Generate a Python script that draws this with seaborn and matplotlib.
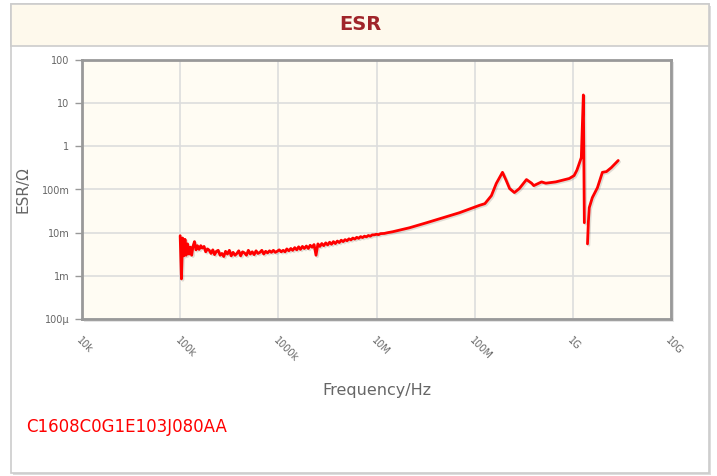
import numpy as np
import pandas as pd
import matplotlib
matplotlib.use("Agg")
import matplotlib.pyplot as plt
import matplotlib.patheffects as pe
from matplotlib.patches import Rectangle
import seaborn as sns

# ESR curve
# noisy low-frequency part: frequency in Hz, ESR in milliohm
freq_noise = [1.00e5, 1.03e5, 1.06e5, 1.09e5, 1.12e5, 1.15e5, 1.19e5, 1.23e5, 1.27e5, 1.31e5,
              1.35e5, 1.40e5, 1.45e5, 1.50e5, 1.56e5, 1.62e5, 1.68e5, 1.75e5, 1.82e5, 1.90e5,
              1.98e5, 2.06e5, 2.15e5, 2.24e5, 2.34e5, 2.44e5, 2.55e5, 2.66e5, 2.78e5, 2.90e5,
              3.03e5, 3.17e5, 3.31e5, 3.46e5, 3.62e5, 3.78e5, 3.95e5, 4.13e5, 4.32e5, 4.52e5,
              4.73e5, 4.95e5, 5.18e5, 5.42e5, 5.67e5, 5.93e5, 6.20e5, 6.49e5, 6.79e5, 7.10e5,
              7.43e5, 7.77e5, 8.13e5, 8.50e5, 8.90e5, 9.31e5, 9.74e5, 1.02e6, 1.07e6, 1.12e6,
              1.17e6, 1.22e6, 1.28e6, 1.34e6, 1.40e6, 1.47e6, 1.54e6, 1.61e6, 1.68e6, 1.76e6,
              1.84e6, 1.93e6, 2.02e6, 2.11e6, 2.21e6, 2.31e6, 2.42e6, 2.53e6, 2.65e6, 2.77e6,
              2.90e6, 3.04e6, 3.18e6, 3.33e6, 3.48e6, 3.64e6, 3.81e6, 3.99e6, 4.18e6, 4.37e6,
              4.57e6, 4.79e6, 5.01e6, 5.24e6, 5.49e6, 5.74e6, 6.01e6, 6.29e6, 6.58e6, 6.89e6,
              7.21e6, 7.54e6, 7.89e6, 8.26e6, 8.65e6, 9.05e6, 9.47e6, 1.00e7, 1.05e7, 1.10e7,
              1.20e7, 1.30e7, 1.46e7]
esr_noise_mohm = [8.5, 0.85, 7.5, 2.9, 7.0, 3.0, 5.5, 3.2, 4.6, 3.0,
                  4.8, 6.2, 4.0, 5.0, 4.1, 5.0, 4.4, 4.8, 3.6, 4.2,
                  3.9, 3.3, 4.0, 3.1, 3.7, 3.9, 3.0, 3.3, 2.8, 3.7,
                  3.2, 3.9, 2.9, 3.5, 3.0, 3.3, 3.8, 2.9, 3.6, 3.4,
                  3.0, 3.9, 3.2, 3.6, 3.1, 3.8, 3.3, 3.5, 3.9, 3.2,
                  3.7, 3.4, 3.8, 3.5, 3.9, 3.5, 3.7, 4.0, 3.6, 3.9,
                  3.6, 4.2, 3.8, 4.3, 3.9, 4.5, 4.0, 4.7, 4.1, 4.8,
                  4.3, 4.9, 4.3, 5.1, 4.6, 5.3, 3.0, 5.5, 4.8, 5.6,
                  5.0, 5.8, 5.2, 6.0, 5.4, 6.2, 5.6, 6.4, 5.9, 6.7,
                  6.2, 6.9, 6.5, 7.2, 6.8, 7.5, 7.1, 7.8, 7.4, 8.1,
                  7.7, 8.3, 8.0, 8.6, 8.3, 8.9, 8.9, 9.2, 9.0, 9.5,
                  9.6, 10.0, 10.5]
# smooth part up to the self-resonance, ESR in ohm
freq_mid = [2.17e7, 3.24e7, 4.7e7, 7.0e7, 1.12e8, 1.27e8, 1.48e8, 1.66e8, 1.92e8, 2.1e8,
            2.27e8, 2.54e8, 2.85e8, 3.37e8, 3.8e8, 4.0e8, 4.8e8, 5.3e8, 6.7e8, 9.2e8,
            1.03e9, 1.1e9, 1.22e9, 1.28e9, 1.31e9]
esr_mid = [1.3e-2, 1.7e-2, 2.2e-2, 2.9e-2, 4.3e-2, 4.7e-2, 7.2e-2, 0.138, 0.25, 0.16,
           0.105, 0.085, 0.105, 0.17, 0.14, 0.123, 0.15, 0.14, 0.15, 0.18,
           0.21, 0.28, 0.55, 15.5, 0.017]
# branch after the resonance gap
freq_high = [1.41e9, 1.44e9, 1.47e9, 1.58e9, 1.78e9, 2.0e9, 2.2e9, 2.46e9, 2.9e9]
esr_high = [5.5e-3, 0.018, 0.038, 0.065, 0.11, 0.25, 0.26, 0.32, 0.47]

x_ticks = [1e4, 1e5, 1e6, 1e7, 1e8, 1e9, 1e10]
x_labels = ["10k", "100k", "1000k", "10M", "100M", "1G", "10G"]
y_ticks = [1e-4, 1e-3, 1e-2, 1e-1, 1, 10, 100]
y_labels = ["100µ", "1m", "10m", "100m", "1", "10", "100"]

df = pd.concat([
    pd.DataFrame({"freq": freq_noise, "esr": np.array(esr_noise_mohm) / 1000, "seg": 0}),
    pd.DataFrame({"freq": freq_mid, "esr": esr_mid, "seg": 0}),
    pd.DataFrame({"freq": freq_high, "esr": esr_high, "seg": 1}),
], ignore_index=True)

sns.set_style("white")
W, H = 717, 476
fig = plt.figure(figsize=(W / 100, H / 100), dpi=100)

# outer panel + header band (figure pixel coords)
def px(x0, y0, x1, y1):
    return (x0 / W, 1 - y1 / H), (x1 - x0) / W, (y1 - y0) / H

xy, w, h = px(13, 6, 711, 475)
fig.patches.append(Rectangle(xy, w, h, transform=fig.transFigure, facecolor="#dddddd", edgecolor="none", zorder=-3))
xy, w, h = px(11, 4, 709, 473)
fig.patches.append(Rectangle(xy, w, h, transform=fig.transFigure, facecolor="white", edgecolor="#cccccc", lw=1.2, zorder=-2))
xy, w, h = px(11, 4, 709, 46)
fig.patches.append(Rectangle(xy, w, h, transform=fig.transFigure, facecolor="#fef9ec", edgecolor="#cccccc", lw=1.2, zorder=-1))
fig.text(360 / W, 1 - 25 / H, "ESR", color="#a0252a", fontsize=14, fontweight="bold", ha="center", va="center")

# plot area shadow
xy, w, h = px(84, 62, 674, 322)
fig.patches.append(Rectangle(xy, w, h, transform=fig.transFigure, facecolor="#e4e4e4", edgecolor="none", zorder=-0.5))

ax = fig.add_axes([82 / W, 1 - 319 / H, (671 - 82) / W, (319 - 60) / H])
ax.set_zorder(5)
ax.set_facecolor("#fffcf3")

sns.lineplot(data=df, x="freq", y="esr", units="seg", estimator=None, sort=False, color="#ff0000",
             linewidth=2.0, ax=ax, legend=False,
             path_effects=[pe.SimpleLineShadow(offset=(1.0, -1.0), shadow_color="black", alpha=0.12),
                           pe.Normal()])

ax.set_xscale("log")
ax.set_yscale("log")
ax.set_xlim(1e4, 1e10)
ax.set_ylim(1e-4, 1e2)
ax.minorticks_off()

ax.set_xticks(x_ticks)
ax.set_xticklabels(x_labels, rotation=-45, ha="left", va="top", rotation_mode="anchor")
ax.set_yticks(y_ticks)
ax.set_yticklabels(y_labels)
ax.grid(True, color="#dddddd", linewidth=1.2)
ax.set_axisbelow(True)

ax.tick_params(axis="y", length=5, width=1, color="#999999", labelsize=7, labelcolor="#666666", pad=4, left=True)
ax.tick_params(axis="x", length=0, labelsize=7, labelcolor="#666666", pad=12)
for s in ax.spines.values():
    s.set_visible(True)
    s.set_color("#999999")
    s.set_linewidth(2.0)

ax.set_xlabel("Frequency/Hz", fontsize=11.5, color="#666666", labelpad=14)
ax.set_ylabel("ESR/Ω", fontsize=11, color="#666666", labelpad=8)

fig.text(26 / W, 1 - 427 / H, "C1608C0G1E103J080AA", color="#ff0000", fontsize=12, ha="left", va="center")

fig.savefig("out.png", dpi=100)
